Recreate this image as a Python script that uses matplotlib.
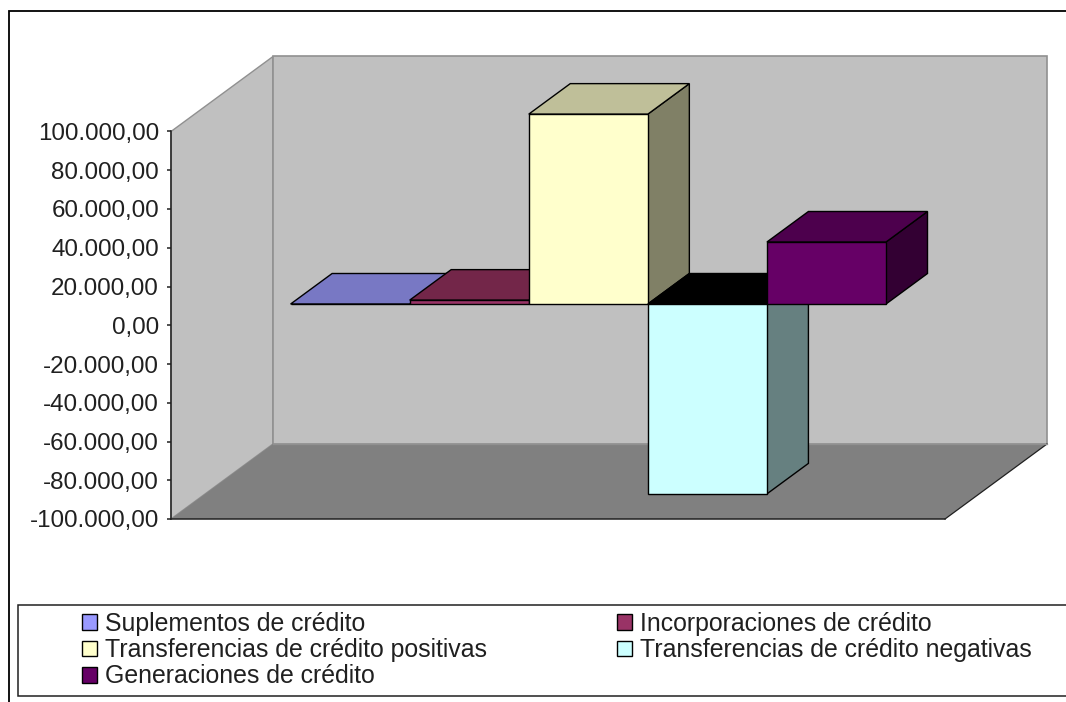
import matplotlib
matplotlib.use("Agg")
import matplotlib.pyplot as plt
from matplotlib.patches import Polygon, Rectangle

# --- data ---
series_names = ["Suplementos de crédito", "Incorporaciones de crédito",
                "Transferencias de crédito positivas", "Transferencias de crédito negativas",
                "Generaciones de crédito"]
series_values = [0, 2000, 98000, -98000, 32000]
front_colors = ["#9999FF", "#993366", "#FFFFCC", "#CCFFFF", "#660066"]
top_colors = ["#7878C4", "#732649", "#BFBF99", "#000000", "#4D004D"]
side_colors = ["#4D4D80", "#4D1A33", "#808066", "#668080", "#330033"]
y_ticks = [-100000, -80000, -60000, -40000, -20000, 0, 20000, 40000, 60000, 80000, 100000]

W, H = 1066, 702
plt.rcParams["font.family"] = ["Liberation Sans", "DejaVu Sans"]
FS = 17.4
FS_LEG = 17.9

fig = plt.figure(figsize=(W / 100, H / 100), dpi=100, facecolor="white")
L, R, T, B = 171, 945, 131.5, 519
ax = fig.add_axes([L / W, 1 - B / H, (R - L) / W, (B - T) / H])
ax.patch.set_visible(False)
ax.set_xlim(0, 6.5)
ax.set_ylim(-100000, 100000)

# oblique projection: depth 0 = front plane, depth 1 = back wall
dx_full = 102 / ((R - L) / 6.5)
dy_full = 75 / ((B - T) / 200000)


def pr(x, v, d):
    return (x + d * dx_full, v + d * dy_full)


def face(pts, fc, ec="black", lw=1.0, z=2):
    ax.add_patch(Polygon(pts, closed=True, facecolor=fc, edgecolor=ec, linewidth=lw,
                         clip_on=False, zorder=z, joinstyle="miter"))


vmin, vmax = -100000, 100000
# walls
face([pr(0, vmin, 0), pr(0, vmax, 0), pr(0, vmax, 1), pr(0, vmin, 1)], "#C0C0C0", "#909090", 1.0, 1)
face([pr(0, vmin, 1), pr(0, vmax, 1), pr(6.5, vmax, 1), pr(6.5, vmin, 1)], "#C0C0C0", "#909090", 1.2, 1)
# floor
face([pr(0, vmin, 0), pr(0, vmin, 1), pr(6.5, vmin, 1), pr(6.5, vmin, 0)], "#808080", "none", 0, 1.1)
ax.plot(*zip(pr(6.5, vmin, 0), pr(6.5, vmin, 1)), color="#202020", lw=0.9, clip_on=False, zorder=1.2)
ax.plot(*zip(pr(0, vmin, 1), pr(6.5, vmin, 1)), color="#909090", lw=0.9, clip_on=False, zorder=1.2)

# bars
d0, d1 = 0.283, 0.69
for i, (val, fc, tc, sc) in enumerate(zip(series_values, front_colors, top_colors, side_colors)):
    x0, x1 = 0.762 + i, 1.762 + i
    hi, lo = max(val, 0), min(val, 0)
    z = 2 + i * 0.1
    face([pr(x1, lo, d0), pr(x1, hi, d0), pr(x1, hi, d1), pr(x1, lo, d1)], sc, z=z)
    face([pr(x0, hi, d0), pr(x1, hi, d0), pr(x1, hi, d1), pr(x0, hi, d1)], tc, z=z)
    face([pr(x0, lo, d0), pr(x1, lo, d0), pr(x1, hi, d0), pr(x0, hi, d0)], fc, z=z)

# axes
for s in ("top", "right"):
    ax.spines[s].set_visible(False)
for s in ("left", "bottom"):
    ax.spines[s].set_linewidth(1.1)
    ax.spines[s].set_color("#202020")
ax.set_xticks([])
ax.set_yticks(y_ticks)
ax.set_yticklabels([f"{v:,.2f}".replace(",", "X").replace(".", ",").replace("X", ".") for v in y_ticks],
                   fontsize=FS, color="#202020")
ax.tick_params(axis="y", length=3.2, width=1.1, pad=5.5, color="#202020")

# outer border and legend frame
fig.add_artist(Rectangle((9 / W, -0.02), 1.1, 1.02 - 11 / H, transform=fig.transFigure,
                         fill=False, edgecolor="black", linewidth=1.3))
fig.add_artist(Rectangle((18 / W, 1 - 696 / H), 1.1, 91 / H, transform=fig.transFigure,
                         facecolor="white", edgecolor="#202020", linewidth=1.1, zorder=3))

handles = [Rectangle((0, 0), 1, 1, facecolor=c, edgecolor="black", linewidth=1.0) for c in front_colors]
order = [0, 2, 4, 1, 3]
leg = fig.legend([handles[i] for i in order], [series_names[i] for i in order],
                 ncol=2, loc="upper left", bbox_to_anchor=(82 / W, 1 - 612 / H),
                 frameon=False, fontsize=FS_LEG, borderpad=0, borderaxespad=0,
                 handlelength=0.6, handleheight=0.6, handletextpad=0.32,
                 columnspacing=5.24, labelspacing=0.09, labelcolor="#202020")
leg.set_zorder(4)

fig.savefig("out.png", dpi=100, facecolor="white")
